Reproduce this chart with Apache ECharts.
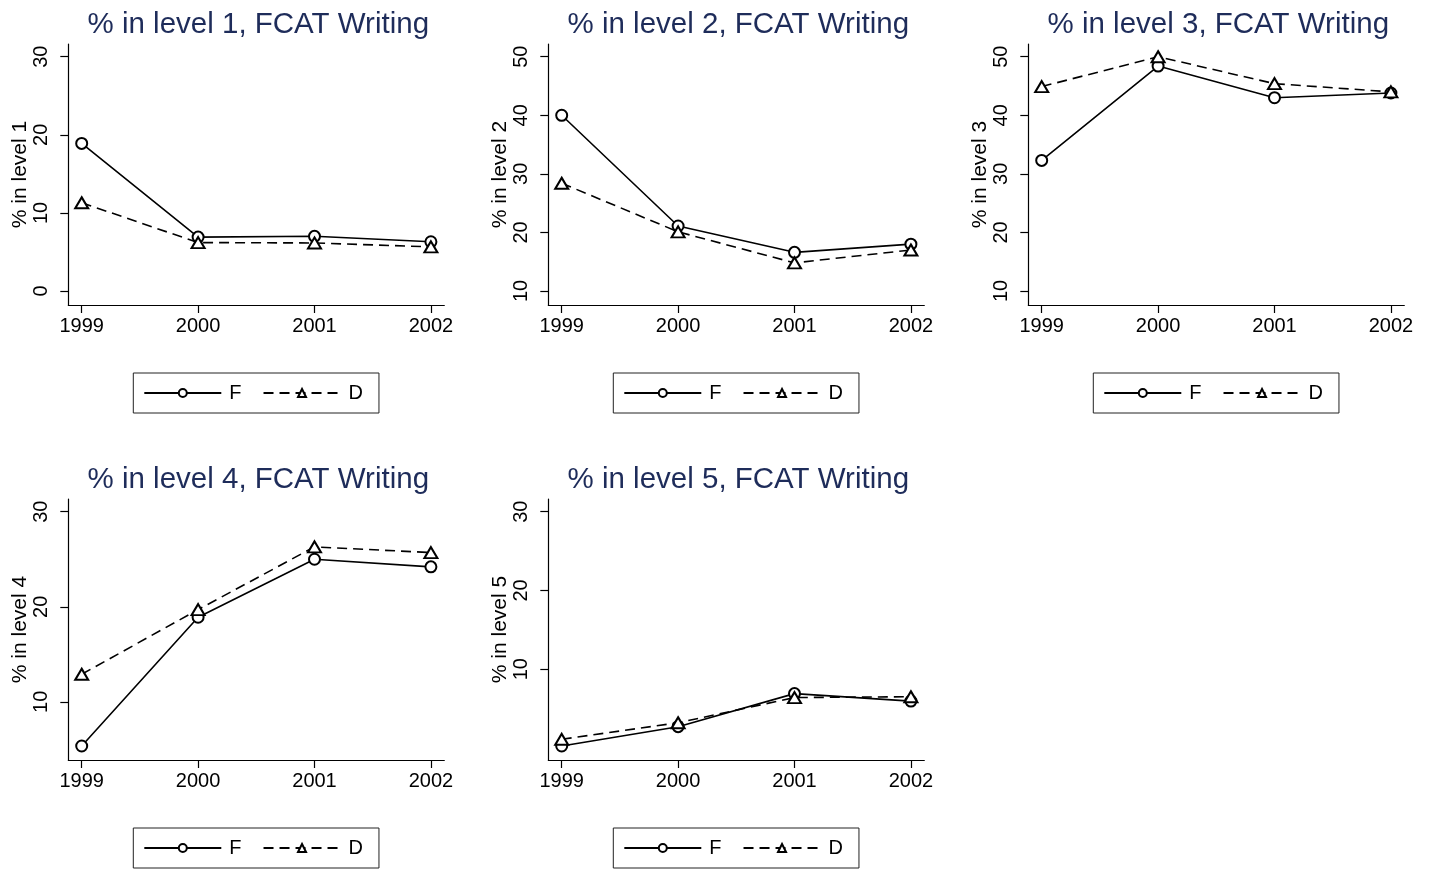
<!DOCTYPE html>
<html><head><meta charset="utf-8">
<script src="https://cdn.jsdelivr.net/npm/echarts@6/dist/echarts.min.js"></script>
<style>html,body{margin:0;padding:0;background:#fff}#c{width:1432px;height:871px}</style>
</head><body><div id="c"></div>
<script>
// ---- data ----
const years = [1999, 2000, 2001, 2002];
const seriesNames = ['F', 'D'];
const panelTitles = [
  '% in level 1, FCAT Writing', '% in level 2, FCAT Writing', '% in level 3, FCAT Writing',
  '% in level 4, FCAT Writing', '% in level 5, FCAT Writing'
];
const axisNames = ['% in level 1', '% in level 2', '% in level 3', '% in level 4', '% in level 5'];
const fLevel1 = [18.9, 6.9, 7.0, 6.3];
const dLevel1 = [11.3, 6.2, 6.15, 5.65];
const fLevel2 = [40.0, 21.1, 16.6, 18.0];
const dLevel2 = [28.4, 20.1, 14.8, 17.0];
const fLevel3 = [32.3, 48.4, 43.0, 43.8];
const dLevel3 = [44.9, 50.0, 45.4, 44.0];
const fLevel4 = [5.35, 18.9, 25.0, 24.2];
const dLevel4 = [12.9, 19.7, 26.3, 25.7];
const fLevel5 = [0.25, 2.7, 6.9, 5.95];
const dLevel5 = [1.1, 3.2, 6.4, 6.5];
const ticksLevel1 = [0, 10, 20, 30];
const ticksLevel2 = [10, 20, 30, 40, 50];
const ticksLevel3 = [10, 20, 30, 40, 50];
const ticksLevel4 = [10, 20, 30];
const ticksLevel5 = [10, 20, 30];

const fData = [fLevel1, fLevel2, fLevel3, fLevel4, fLevel5];
const dData = [dLevel1, dLevel2, dLevel3, dLevel4, dLevel5];
const yTicks = [ticksLevel1, ticksLevel2, ticksLevel3, ticksLevel4, ticksLevel5];

// ---- layout ----
const FONT = '"Liberation Sans", Arial, Helvetica, sans-serif';
const gridLeft = [68.3, 548.3, 1028.3, 68.3, 548.3];
const gridTop = [44, 44, 44, 499, 499];
const GRID_W = 376, GRID_H = 261;
const PAD_LO = 14 / 234, PAD_HI = 12.7 / 234;   // plot-region margins relative to scale span
const X_PAD = 13.4 / 349.3;

function yRange(vals, ticks) {
  const lo = Math.min(...vals, ...ticks), hi = Math.max(...vals, ...ticks);
  const s = hi - lo;
  return [lo - s * PAD_LO, hi + s * PAD_HI];
}
const xSpan = years[years.length - 1] - years[0];
const xMin = years[0] - xSpan * X_PAD, xMax = years[years.length - 1] + xSpan * X_PAD;

const grid = [], xAxis = [], yAxis = [], series = [], title = [], legend = [];
for (let i = 0; i < 5; i++) {
  const cx = gridLeft[i] + GRID_W / 2;
  grid.push({ left: gridLeft[i], top: gridTop[i], width: GRID_W, height: GRID_H, containLabel: false });
  xAxis.push({
    gridIndex: i, type: 'value', min: xMin, max: xMax,
    axisLine: { show: true, onZero: false, lineStyle: { color: '#000', width: 1.2 } },
    axisTick: { show: true, length: 8, customValues: years, lineStyle: { color: '#000', width: 1.2 } },
    axisLabel: { customValues: years, formatter: v => String(v), fontSize: 20, color: '#000', margin: 11, fontFamily: FONT },
    splitLine: { show: false }
  });
  const [lo, hi] = yRange(fData[i].concat(dData[i]), yTicks[i]);
  yAxis.push({
    gridIndex: i, type: 'value', min: lo, max: hi,
    name: axisNames[i], nameLocation: 'middle', nameGap: 31, nameRotate: 90,
    nameTextStyle: { fontSize: 21, color: '#000', fontFamily: FONT },
    axisLine: { show: true, onZero: false, lineStyle: { color: '#000', width: 1.2 } },
    axisTick: { show: true, length: 8, customValues: yTicks[i], lineStyle: { color: '#000', width: 1.2 } },
    axisLabel: { customValues: yTicks[i], formatter: v => String(v), rotate: 90, fontSize: 20, color: '#000', margin: 17, fontFamily: FONT },
    splitLine: { show: false }
  });
  series.push({
    type: 'line', name: seriesNames[0], xAxisIndex: i, yAxisIndex: i,
    data: years.map((y, j) => [y, fData[i][j]]),
    symbol: 'emptyCircle', symbolSize: 11,
    lineStyle: { color: '#000', width: 1.6, type: 'solid' },
    itemStyle: { color: '#000', borderWidth: 2.6 },
    animation: false, z: 2
  });
  series.push({
    type: 'line', name: seriesNames[1], xAxisIndex: i, yAxisIndex: i,
    data: years.map((y, j) => [y, dData[i][j]]),
    symbol: 'emptyTriangle', symbolSize: [13, 11],
    lineStyle: { color: '#000', width: 1.6, type: [10, 6] },
    itemStyle: { color: '#000', borderWidth: 2.6 },
    animation: false, z: 3
  });
  title.push({
    text: panelTitles[i], left: cx - 3, top: gridTop[i] - 38.8, textAlign: 'center',
    textStyle: { fontSize: 29.5, fontWeight: 'normal', color: '#1e2c5a', fontFamily: FONT }
  });
  legend.push({
    data: seriesNames, left: cx - 123, top: gridTop[i] + 329,
    orient: 'horizontal', itemWidth: 77, itemHeight: 10, itemGap: 21,
    padding: [10, 16, 10, 10], borderColor: '#222', borderWidth: 1,
    selectedMode: false,
    textStyle: { fontSize: 20, color: '#000', fontFamily: FONT, padding: [0, 0, 0, 3] }
  });
}

const chart = echarts.init(document.getElementById('c'), null, { renderer: 'canvas' });
chart.setOption({ backgroundColor: '#fff', animation: false, grid, xAxis, yAxis, series, title, legend });
</script></body></html>
